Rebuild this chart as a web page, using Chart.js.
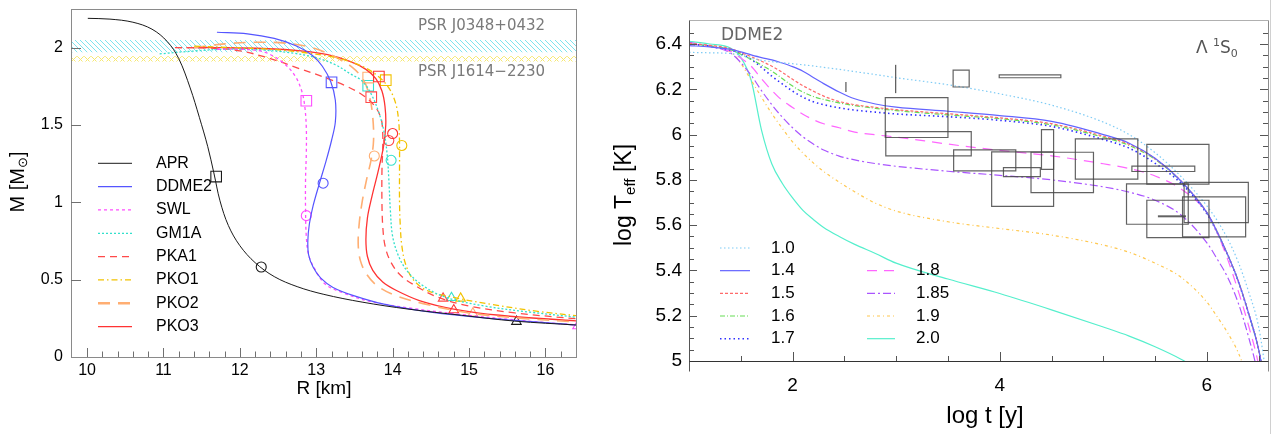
<!DOCTYPE html>
<html>
<head>
<meta charset="utf-8">
<script src="https://cdn.jsdelivr.net/npm/chart.js@4.4.1/dist/chart.umd.min.js"></script>
<style>
  html, body { margin: 0; padding: 0; background: #fff; }
  #wrap { position: relative; width: 1275px; height: 434px; overflow: hidden; }
  .box { position: absolute; top: 0; height: 434px; }
  #left { left: 0; width: 600px; }
  #right { left: 600px; width: 675px; }
  #edge { position: absolute; left: 1270px; top: 0; width: 1px; height: 434px; background: #d0d0d0; }
</style>
</head>
<body>
<div id="wrap">
  <div class="box" id="left"><canvas id="graficoMR"></canvas></div>
  <div class="box" id="right"><canvas id="graficoCooling"></canvas></div>
  <div id="edge"></div>
</div>
<script>
const FONT = "'Liberation Sans', Arial, sans-serif";
const THIN = "'DejaVu Sans', sans-serif";

/* PAINEL ESQUERDO - massa x raio */
const eosNames = ['APR', 'DDME2', 'SWL', 'GM1A', 'PKA1', 'PKO1', 'PKO2', 'PKO3'];

const aprR = [10.01, 10.3, 10.6, 10.85, 11.05, 11.2, 11.35, 11.47, 11.58, 11.66, 11.74, 11.85, 12.0, 12.2, 12.45, 12.75, 13.1, 13.6, 14.2, 14.9, 15.6, 16.4];
const aprM = [2.19, 2.185, 2.165, 2.12, 2.04, 1.93, 1.74, 1.55, 1.36, 1.19, 1.01, 0.85, 0.72, 0.61, 0.52, 0.455, 0.405, 0.355, 0.31, 0.27, 0.232, 0.207];

const ddme2R = [11.7, 12.1, 12.45, 12.75, 12.95, 13.08, 13.19, 13.25, 13.25, 13.2, 13.13, 13.04, 12.96, 12.91, 12.89, 12.9, 12.96, 13.06, 13.22, 13.5, 13.9, 14.5, 15.2, 16.4];
const ddme2M = [2.10, 2.09, 2.06, 2.01, 1.95, 1.88, 1.78, 1.66, 1.52, 1.40, 1.27, 1.12, 0.98, 0.86, 0.75, 0.66, 0.58, 0.51, 0.45, 0.395, 0.34, 0.29, 0.253, 0.207];

const swlR = [11.7, 12.0, 12.3, 12.55, 12.72, 12.81, 12.85, 12.87, 12.87, 12.86, 12.86, 12.87, 12.9, 12.98, 13.12, 13.35, 13.7, 14.2, 14.9, 15.6, 16.45];
const swlM = [1.99, 1.99, 1.975, 1.91, 1.82, 1.72, 1.62, 1.48, 1.32, 1.15, 0.95, 0.78, 0.66, 0.57, 0.47, 0.415, 0.36, 0.318, 0.275, 0.24, 0.205];

const gm1aR = [10.95, 11.3, 11.8, 12.3, 12.7, 13.0, 13.25, 13.45, 13.6, 13.72, 13.82, 13.89, 13.93, 13.95, 13.97, 14.0, 14.08, 14.2, 14.4, 14.7, 15.2, 15.8, 16.45];
const gm1aM = [1.96, 1.975, 1.99, 1.985, 1.965, 1.935, 1.89, 1.83, 1.785, 1.70, 1.58, 1.45, 1.30, 1.15, 0.95, 0.78, 0.65, 0.55, 0.46, 0.385, 0.33, 0.29, 0.255];

const pka1R = [11.15, 11.6, 12.0, 12.4, 12.75, 13.1, 13.4, 13.62, 13.77, 13.85, 13.87, 13.87, 13.86, 13.86, 13.87, 13.9, 13.97, 14.1, 14.3, 14.6, 15.0, 15.6, 16.45];
const pka1M = [2.0, 1.998, 1.98, 1.93, 1.87, 1.81, 1.75, 1.69, 1.62, 1.54, 1.45, 1.35, 1.2, 1.0, 0.85, 0.72, 0.62, 0.53, 0.46, 0.385, 0.33, 0.285, 0.245];

const pko1R = [11.4, 11.9, 12.4, 12.9, 13.3, 13.6, 13.8, 13.95, 14.04, 14.08, 14.09, 14.09, 14.09, 14.1, 14.12, 14.17, 14.27, 14.45, 14.8, 15.3, 15.9, 16.45];
const pko1M = [2.01, 2.0, 1.99, 1.965, 1.93, 1.88, 1.82, 1.74, 1.64, 1.52, 1.38, 1.2, 1.0, 0.85, 0.72, 0.6, 0.5, 0.43, 0.385, 0.34, 0.295, 0.265];

const pko2R = [11.4, 11.8, 12.2, 12.6, 12.95, 13.25, 13.48, 13.62, 13.7, 13.74, 13.75, 13.72, 13.66, 13.6, 13.56, 13.55, 13.58, 13.66, 13.8, 14.05, 14.4, 15.0, 15.7, 16.45];
const pko2M = [2.0, 2.025, 2.035, 2.03, 2.0, 1.94, 1.87, 1.79, 1.68, 1.55, 1.40, 1.28, 1.15, 1.0, 0.85, 0.72, 0.62, 0.535, 0.46, 0.395, 0.345, 0.285, 0.25, 0.225];

const pko3R = [11.3, 11.8, 12.3, 12.8, 13.15, 13.45, 13.65, 13.78, 13.86, 13.9, 13.91, 13.88, 13.81, 13.73, 13.67, 13.65, 13.67, 13.74, 13.87, 14.05, 14.35, 14.8, 15.4, 16.45];
const pko3M = [2.0, 2.0, 1.995, 1.98, 1.955, 1.91, 1.86, 1.80, 1.72, 1.62, 1.50, 1.36, 1.20, 1.04, 0.90, 0.76, 0.65, 0.56, 0.485, 0.43, 0.365, 0.31, 0.27, 0.232];

// marcadores (quadrado, circulo, triangulo) na ordem de eosNames
const squareR = [11.69, 13.2, 12.87, 13.68, 13.72, 13.91, 13.68, 13.82];
const squareM = [1.167, 1.776, 1.657, 1.754, 1.68, 1.79, 1.807, 1.814];
const circleR = [12.28, 13.09, 12.87, 13.98, 13.95, 14.12, 13.76, 14.0];
const circleM = [0.582, 1.124, 0.914, 1.272, 1.40, 1.368, 1.30, 1.445];
const triangleR = [15.62, null, 16.42, 14.77, 14.66, 14.89, 15.05, 14.8];
const triangleM = [0.229, null, 0.2, 0.383, 0.379, 0.379, 0.283, 0.304];

// faixas dos pulsares [min, max]
const psrJ0348 = [1.97, 2.05];
const psrJ1614 = [1.911, 1.945];

const rTicks = [10, 11, 12, 13, 14, 15, 16];
const mTicks = [0, 0.5, 1, 1.5, 2];
const rRange = [9.79, 16.4];
const mRange = [0, 2.253];

/* PAINEL DIREITO - resfriamento */
const coolingMasses = ['1.0', '1.4', '1.5', '1.6', '1.7', '1.8', '1.85', '1.9', '2.0'];
const logAge = [1.0, 1.2, 1.4, 1.5, 1.6, 1.7, 1.8, 1.9, 2.0, 2.1, 2.2, 2.3, 2.45, 2.6, 2.8, 3.0, 3.5, 4.0, 4.5, 5.0, 5.25, 5.5, 5.75, 6.0, 6.1, 6.2, 6.3, 6.4, 6.5, 6.6];
const teff10 = [6.363, 6.361, 6.358, 6.35, 6.337, 6.328, 6.322, 6.317, 6.313, 6.308, 6.303, 6.297, 6.288, 6.278, 6.265, 6.251, 6.22, 6.18, 6.13, 6.055, 6.0, 5.92, 5.815, 5.685, 5.62, 5.54, 5.44, 5.31, 5.15, 4.85];
const teff14 = [6.393, 6.387, 6.377, 6.365, 6.352, 6.34, 6.33, 6.316, 6.30, 6.28, 6.252, 6.225, 6.188, 6.158, 6.135, 6.121, 6.103, 6.084, 6.058, 6.0, 5.962, 5.895, 5.795, 5.655, 5.57, 5.47, 5.357, 5.215, 5.05, 4.8];
const teff15 = [6.403, 6.394, 6.38, 6.362, 6.344, 6.324, 6.302, 6.275, 6.244, 6.216, 6.192, 6.17, 6.146, 6.132, 6.12, 6.11, 6.092, 6.074, 6.048, 5.993, 5.957, 5.893, 5.795, 5.655, 5.57, 5.47, 5.357, 5.215, 5.05, 4.8];
const teff16 = [6.40, 6.392, 6.375, 6.355, 6.332, 6.307, 6.28, 6.248, 6.214, 6.188, 6.168, 6.155, 6.14, 6.128, 6.116, 6.106, 6.087, 6.07, 6.043, 5.988, 5.952, 5.89, 5.793, 5.655, 5.57, 5.47, 5.357, 5.215, 5.05, 4.8];
const teff17 = [6.40, 6.39, 6.373, 6.358, 6.332, 6.297, 6.258, 6.224, 6.192, 6.165, 6.145, 6.132, 6.118, 6.108, 6.099, 6.091, 6.079, 6.063, 6.036, 5.978, 5.94, 5.873, 5.785, 5.65, 5.567, 5.468, 5.355, 5.213, 5.05, 4.8];
const teff18 = [6.403, 6.39, 6.368, 6.338, 6.302, 6.246, 6.195, 6.151, 6.12, 6.09, 6.066, 6.048, 6.03, 6.011, 5.999, 5.989, 5.958, 5.93, 5.906, 5.871, 5.85, 5.817, 5.76, 5.655, 5.565, 5.45, 5.313, 5.16, 4.98, 4.7];
const teff185 = [6.407, 6.39, 6.36, 6.318, 6.262, 6.194, 6.132, 6.077, 6.03, 5.99, 5.958, 5.932, 5.905, 5.888, 5.872, 5.86, 5.838, 5.82, 5.8, 5.769, 5.746, 5.71, 5.645, 5.522, 5.45, 5.37, 5.26, 5.11, 4.92, 4.6];
const teff19 = [6.407, 6.39, 6.365, 6.315, 6.24, 6.165, 6.092, 6.028, 5.968, 5.918, 5.875, 5.837, 5.79, 5.747, 5.697, 5.662, 5.615, 5.585, 5.556, 5.512, 5.48, 5.432, 5.37, 5.26, 5.195, 5.125, 5.04, 4.92, 4.78, 4.6];
const teff20 = [6.412, 6.40, 6.382, 6.34, 6.24, 6.02, 5.87, 5.785, 5.72, 5.665, 5.625, 5.59, 5.55, 5.515, 5.475, 5.432, 5.362, 5.298, 5.226, 5.15, 5.11, 5.063, 5.008, 4.94, null, null, null, null, null, null];

// observacoes: caixas de erro em log t e log Teff
const obsAgeLo = [2.515, 2.995, 3.55, 3.995, 2.895, 2.90, 3.555, 3.922, 4.036, 4.302, 4.403, 4.73, 5.276, 5.42, 5.224, 5.42, 5.78, 5.765, 5.527];
const obsAgeHi = [2.515, 2.995, 3.705, 4.59, 3.50, 3.725, 4.155, 4.52, 4.392, 4.905, 4.52, 5.333, 5.883, 6.02, 5.82, 6.02, 6.40, 6.374, 5.798];
const obsTeffLo = [6.188, 6.183, 6.21, 6.251, 5.987, 5.906, 5.84, 5.683, 5.814, 5.744, 5.846, 5.803, 5.837, 5.781, 5.604, 5.545, 5.611, 5.548, 5.639];
const obsTeffHi = [6.232, 6.308, 6.285, 6.264, 6.163, 6.013, 5.932, 5.924, 5.854, 5.922, 6.022, 5.981, 5.861, 5.957, 5.782, 5.71, 5.789, 5.725, 5.639];

const ageTicks = [2, 4, 6];
const teffTicks = [5, 5.2, 5.4, 5.6, 5.8, 6, 6.2, 6.4];
const ageRange = [1.0, 6.59];
const teffRange = [5, 6.506];

/* funcoes de desenho */
function pontos(xs, ys) {
  return xs.map((x, i) => ({ x: x, y: ys[i] }));
}

function hachura(color, cruzada) {
  const c = document.createElement('canvas');
  const n = cruzada ? 7 : 5;
  c.width = n; c.height = n;
  const g = c.getContext('2d');
  g.strokeStyle = color;
  g.lineWidth = 1;
  g.beginPath();
  g.moveTo(-1, -1); g.lineTo(n + 1, n + 1);
  g.moveTo(-1, n - 1); g.lineTo(1, n + 1);
  g.moveTo(n - 1, -1); g.lineTo(n + 1, 1);
  if (cruzada) {
    g.moveTo(n + 1, -1); g.lineTo(-1, n + 1);
    g.moveTo(1, -1); g.lineTo(-1, 1);
    g.moveTo(n + 1, n - 1); g.lineTo(n - 1, n + 1);
  }
  g.stroke();
  return g.createPattern(c, 'repeat');
}

function passos(min, max, step) {
  const out = [];
  for (let i = Math.ceil(min / step - 1e-9); i * step <= max + 1e-9; i++) out.push(+(i * step).toFixed(6));
  return out;
}

function marcas(chart, axis, values, len, mirror) {
  const ctx = chart.ctx, a = chart.chartArea, s = chart.scales[axis];
  values.forEach(v => {
    const p = Math.round(s.getPixelForValue(v)) + 0.5;
    if (axis === 'x') {
      if (p < a.left + 2 || p > a.right - 2) return;
      ctx.moveTo(p, a.bottom); ctx.lineTo(p, a.bottom - len);
    } else {
      if (p < a.top + 2 || p > a.bottom - 2) return;
      ctx.moveTo(a.left, p); ctx.lineTo(a.left + len, p);
      if (mirror) { ctx.moveTo(a.right, p); ctx.lineTo(a.right - len, p); }
    }
  });
}

// parts: pedacos de texto com tamanho e deslocamento vertical (sub/sobrescrito)
function textoRico(ctx, parts, x, y, rotate, color, alignLeft) {
  ctx.save();
  ctx.translate(x, y);
  if (rotate) ctx.rotate(-Math.PI / 2);
  let w = 0;
  parts.forEach(p => { ctx.font = p.size + 'px ' + (p.family || FONT); p.w = ctx.measureText(p.t).width; w += p.w; });
  let cx = alignLeft ? 0 : -w / 2;
  ctx.textBaseline = 'middle';
  ctx.textAlign = 'left';
  ctx.fillStyle = color || '#000';
  parts.forEach(p => {
    ctx.font = p.size + 'px ' + (p.family || FONT);
    ctx.fillText(p.t, cx, p.dy || 0);
    cx += p.w;
  });
  ctx.restore();
}

function legenda(chart, x1, x2, tx, y, ds, size) {
  const ctx = chart.ctx;
  ctx.save();
  ctx.strokeStyle = ds.borderColor;
  ctx.lineWidth = ds.legendWidth || ds.borderWidth;
  ctx.setLineDash(ds.borderDash || []);
  ctx.beginPath();
  ctx.moveTo(x1, y); ctx.lineTo(x2, y);
  ctx.stroke();
  ctx.setLineDash([]);
  ctx.fillStyle = '#000';
  ctx.font = size + 'px ' + FONT;
  ctx.textBaseline = 'middle';
  ctx.textAlign = 'left';
  ctx.fillText(ds.label, tx, y);
  ctx.restore();
}

// tamanho fixo dos eixos, sem folga extra dos rotulos
function eixoY(width) {
  return s => { s.width = width; s.paddingTop = 0; s.paddingBottom = 0; };
}
function eixoX(height) {
  return s => { s.height = height; s.paddingLeft = 0; s.paddingRight = 0; };
}

/* DASHBOARD - LINHAS - Massa x Raio */
const eosCurves = [[aprR, aprM], [ddme2R, ddme2M], [swlR, swlM], [gm1aR, gm1aM], [pka1R, pka1M], [pko1R, pko1M], [pko2R, pko2M], [pko3R, pko3M]];
const eosColors = ['#1a1a1a', '#5555ff', '#ff4dff', '#33e0cc', '#ff4a4a', '#f2c200', '#ffae72', '#ff3333'];
const eosDash = [[], [], [3, 3], [2, 2], [7, 5], [6, 3, 1.5, 3], [12, 8], []];
const eosWidth = [1, 1.2, 1.3, 1.3, 1.3, 1.3, 1.6, 1.3];

const mrDatasets = eosCurves.map((c, i) => ({
  label: eosNames[i],
  data: pontos(c[0], c[1]),
  borderColor: eosColors[i],
  borderDash: eosDash[i],
  borderWidth: eosWidth[i],
  legendWidth: i === 6 ? 2.6 : eosWidth[i],
  pointRadius: 0,
  tension: 0.35,
  fill: false,
  legendRow: i
}));

const marcadores = [
  { r: squareR, m: squareM, style: 'rect', radius: 7.5 },
  { r: circleR, m: circleM, style: 'circle', radius: 5 },
  { r: triangleR, m: triangleM, style: 'triangle', radius: 5.5 }
];
marcadores.forEach(mk => {
  mrDatasets.push({
    label: mk.style,
    data: pontos(mk.r, mk.m),
    showLine: false,
    pointStyle: mk.style,
    pointRadius: mk.radius,
    pointBorderWidth: 1.1,
    pointBorderColor: eosColors,
    pointBackgroundColor: 'rgba(0,0,0,0)'
  });
});

// faixas no fim da lista, desenhadas por baixo
[[psrJ0348, hachura('#7ee4ee', false)], [psrJ1614, hachura('#f6e870', true)]].forEach(b => {
  mrDatasets.push({
    label: 'band',
    data: pontos(rRange, [b[0][1], b[0][1]]),
    borderWidth: 0,
    pointRadius: 0,
    tension: 0,
    fill: { value: b[0][0] },
    backgroundColor: b[1]
  });
});

const decorMR = {
  id: 'decorMR',
  afterDraw(chart) {
    const ctx = chart.ctx, a = chart.chartArea;
    ctx.save();
    ctx.strokeStyle = '#8a8a8a';
    ctx.lineWidth = 1;
    ctx.strokeRect(Math.round(a.left) + 0.5, Math.round(a.top) + 0.5, Math.round(a.right - a.left), Math.round(a.bottom - a.top));
    ctx.strokeStyle = '#707070';
    ctx.beginPath();
    marcas(chart, 'x', rTicks, 9);
    marcas(chart, 'x', passos(rRange[0], rRange[1], 0.2).filter(v => rTicks.indexOf(v) < 0), 5.5);
    marcas(chart, 'y', mTicks, 10);
    ctx.stroke();
    ctx.restore();

    textoRico(ctx, [{ t: 'M [M', size: 20 }, { t: '\u2299', size: 13, dy: 5 }, { t: ']', size: 20 }], 18, 182, true);
    textoRico(ctx, [{ t: 'R [km]', size: 19 }], 324, 389, false);

    ctx.save();
    ctx.fillStyle = '#7a7a7a';
    ctx.font = '15px ' + THIN;
    ctx.textBaseline = 'middle';
    ctx.fillText('PSR J0348+0432', 418, 26);
    ctx.fillText('PSR J1614\u22122230', 418, 72);
    ctx.restore();

    chart.data.datasets.forEach(ds => {
      if (ds.legendRow === undefined) return;
      legenda(chart, 98, 132, 156, 163.3 + 23.33 * ds.legendRow, ds, 16);
    });
  }
};

new Chart(document.getElementById('graficoMR'), {
  type: 'line',
  data: { datasets: mrDatasets },
  options: {
    responsive: true,
    maintainAspectRatio: false,
    animation: false,
    layout: { padding: { left: 0, right: 24, top: 7, bottom: 0 } },
    plugins: { legend: { display: false }, tooltip: { enabled: false } },
    scales: {
      x: {
        type: 'linear', min: rRange[0], max: rRange[1],
        grid: { display: false, drawTicks: false }, border: { display: false },
        ticks: { font: { family: FONT, size: 16 }, color: '#000', padding: 4, callback: v => String(v) },
        afterBuildTicks: s => { s.ticks = rTicks.map(v => ({ value: v })); },
        afterFit: eixoX(77)
      },
      y: {
        type: 'linear', min: mRange[0], max: mRange[1],
        grid: { display: false, drawTicks: false }, border: { display: false },
        ticks: { font: { family: FONT, size: 16 }, color: '#000', padding: 8, callback: v => String(v) },
        afterBuildTicks: s => { s.ticks = mTicks.map(v => ({ value: v })); },
        afterFit: eixoY(71)
      }
    }
  },
  plugins: [decorMR]
});

/* DASHBOARD - LINHAS - Curvas de resfriamento */
const coolingSeries = [teff10, teff14, teff15, teff16, teff17, teff18, teff185, teff19, teff20];
const coolingColors = ['#7ecbf5', '#6464ff', '#ff6a6a', '#66dd55', '#3030ff', '#ff66ff', '#aa55ff', '#ffc850', '#55efcc'];
const coolingDash = [[1.5, 2.5], [], [3, 2], [5, 2, 1, 2], [1.5, 3], [10, 7], [8, 3, 2, 3], [3, 3, 1, 3], []];
const coolingWidth = [1.2, 1.2, 1.2, 1.2, 1.6, 1.2, 1.2, 1.2, 1.2];

const coolingDatasets = coolingSeries.map((s, i) => ({
  label: coolingMasses[i],
  data: pontos(logAge, s),
  borderColor: coolingColors[i],
  borderDash: coolingDash[i],
  borderWidth: coolingWidth[i],
  pointRadius: 0,
  cubicInterpolationMode: 'monotone',
  fill: false,
  legendRow: i
}));

const decorCooling = {
  id: 'decorCooling',
  afterDatasetsDraw(chart) {
    const ctx = chart.ctx, xs = chart.scales.x, ys = chart.scales.y;
    ctx.save();
    ctx.strokeStyle = 'rgba(70,70,70,0.85)';
    obsAgeLo.forEach((lo, i) => {
      const x1 = xs.getPixelForValue(lo), x2 = xs.getPixelForValue(obsAgeHi[i]);
      const y1 = ys.getPixelForValue(obsTeffHi[i]), y2 = ys.getPixelForValue(obsTeffLo[i]);
      ctx.beginPath();
      if (x1 === x2 || y1 === y2) {
        ctx.lineWidth = y1 === y2 ? 2 : 1.3;
        ctx.moveTo(x1, y1); ctx.lineTo(x2, y2);
      } else {
        ctx.lineWidth = 1.2;
        ctx.rect(x1, y1, x2 - x1, y2 - y1);
      }
      ctx.stroke();
    });
    ctx.restore();
  },
  afterDraw(chart) {
    const ctx = chart.ctx, a = chart.chartArea;
    const L = Math.round(a.left) + 0.5, R = Math.round(a.right) + 0.5, T = Math.round(a.top) + 0.5, B = Math.round(a.bottom) + 0.5;
    ctx.save();
    ctx.lineWidth = 1;
    ctx.strokeStyle = '#b0b0b0';
    ctx.beginPath(); ctx.moveTo(L, T); ctx.lineTo(R, T); ctx.stroke();
    ctx.strokeStyle = '#8a8a8a';
    ctx.beginPath(); ctx.moveTo(R, T); ctx.lineTo(R, B + 10); ctx.stroke();
    ctx.strokeStyle = '#555';
    ctx.beginPath(); ctx.moveTo(L, T); ctx.lineTo(L, B + 10); ctx.stroke();
    ctx.strokeStyle = '#333';
    ctx.beginPath(); ctx.moveTo(L, B); ctx.lineTo(R, B); ctx.stroke();
    ctx.strokeStyle = '#555';
    ctx.beginPath();
    marcas(chart, 'x', ageTicks, 9);
    marcas(chart, 'x', passos(ageRange[0], ageRange[1], 0.5).filter(v => ageTicks.indexOf(v) < 0), 5);
    marcas(chart, 'y', teffTicks, 8, true);
    marcas(chart, 'y', passos(teffRange[0], teffRange[1], 0.05).filter(v => teffTicks.indexOf(v) < 0), 5, true);
    ctx.stroke();
    ctx.restore();

    textoRico(ctx, [{ t: 'log T', size: 23 }, { t: 'eff', size: 15, dy: 6 }, { t: ' [K]', size: 23 }], 25, 195, true);
    textoRico(ctx, [{ t: 'log t [y]', size: 24 }], 385, 416, false);

    ctx.save();
    ctx.fillStyle = '#666';
    ctx.font = '17px ' + THIN;
    ctx.textBaseline = 'middle';
    ctx.fillText('DDME2', 121, 36);
    ctx.restore();
    textoRico(ctx, [
      { t: '\u039B ', size: 17, family: THIN },
      { t: '1', size: 11, dy: -6, family: THIN },
      { t: 'S', size: 17, family: THIN },
      { t: '0', size: 11, dy: 5, family: THIN }
    ], 596, 49, false, '#555', true);

    chart.data.datasets.forEach(ds => {
      const i = ds.legendRow;
      if (i === undefined) return;
      const col = i < 5 ? 0 : 1;
      const row = i < 5 ? i : i - 4;
      const y = 248 + 22.67 * row;
      if (col === 0) legenda(chart, 120, 150, 171, y, ds, 17);
      else legenda(chart, 267, 295, 316, y, ds, 17);
    });
  }
};

new Chart(document.getElementById('graficoCooling'), {
  type: 'line',
  data: { datasets: coolingDatasets },
  options: {
    responsive: true,
    maintainAspectRatio: false,
    animation: false,
    layout: { padding: { left: 0, right: 7, top: 20, bottom: 0 } },
    plugins: { legend: { display: false }, tooltip: { enabled: false } },
    scales: {
      x: {
        type: 'linear', min: ageRange[0], max: ageRange[1],
        grid: { display: false, drawTicks: false }, border: { display: false },
        ticks: { font: { family: FONT, size: 19 }, color: '#000', padding: 13, callback: v => String(v) },
        afterBuildTicks: s => { s.ticks = ageTicks.map(v => ({ value: v })); },
        afterFit: eixoX(73)
      },
      y: {
        type: 'linear', min: teffRange[0], max: teffRange[1],
        grid: { display: false, drawTicks: false }, border: { display: false },
        ticks: { font: { family: FONT, size: 19 }, color: '#000', padding: 7, callback: v => String(v) },
        afterBuildTicks: s => { s.ticks = teffTicks.map(v => ({ value: v })); },
        afterFit: eixoY(89)
      }
    }
  },
  plugins: [decorCooling]
});
</script>
</body>
</html>
